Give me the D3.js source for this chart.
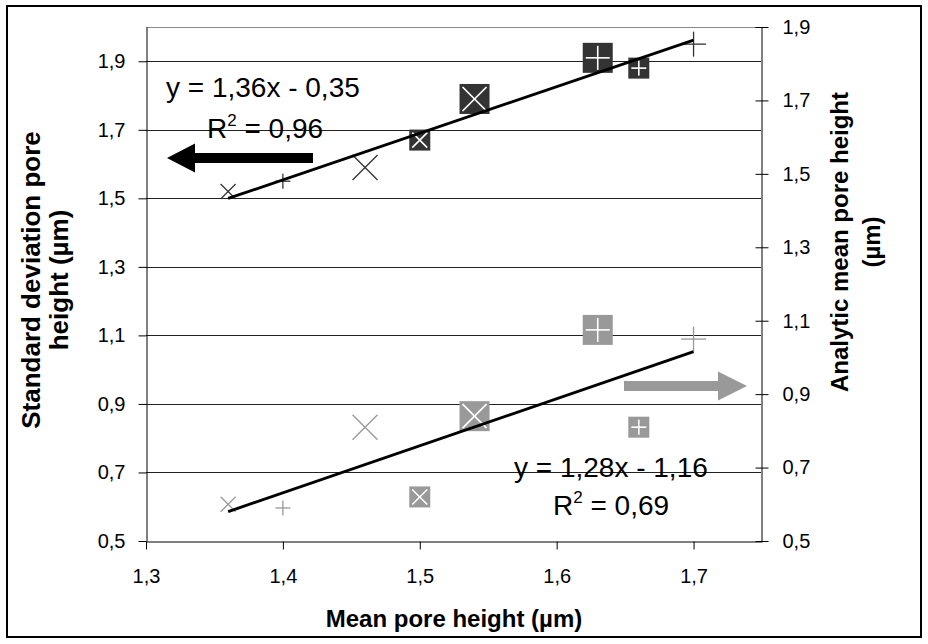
<!DOCTYPE html>
<html>
<head>
<meta charset="utf-8">
<script src="https://cdn.jsdelivr.net/npm/d3@7"></script>
<style>
  body { margin: 0; background: #fff; }
  svg text { font-family: "Liberation Sans", Arial, sans-serif; fill: #000; }
</style>
</head>
<body>
<div id="chart"></div>
<script>
// data
const meanHeight   = [1.36, 1.40, 1.46, 1.50, 1.54, 1.63, 1.66, 1.70];
const stdDev       = [1.52, 1.55, 1.59, 1.67, 1.79, 1.91, 1.88, 1.95];
const analyticMean = [0.60, 0.59, 0.81, 0.62, 0.84, 1.075, 0.81, 1.05];
const xTicks = [1.3, 1.4, 1.5, 1.6, 1.7];
const yTicks = [0.5, 0.7, 0.9, 1.1, 1.3, 1.5, 1.7, 1.9];
const eqStd = ["y = 1,36x - 0,35", " = 0,96"];
const eqAnalytic = ["y = 1,28x - 1,16", " = 0,69"];
const xTitle = "Mean pore height (µm)";
const yLeftTitle = ["Standard deviation pore", "height (µm)"];
const yRightTitle = ["Analytic mean pore height", "(µm)"];

// marker shape for each sample (same for both series)
const markerKind = [
  {sym: "x", size: 15, box: false},
  {sym: "+", size: 15, box: false},
  {sym: "x", size: 25, box: false},
  {sym: "x", size: 21, box: true},
  {sym: "x", size: 30, box: true},
  {sym: "+", size: 30, box: true},
  {sym: "+", size: 21, box: true},
  {sym: "+", size: 25, box: false}
];

const W = 928, H = 644;
const plotL = 146, plotR = 762, plotT = 27, plotB = 541;
const fmt = d => d3.format(".1f")(d).replace(".", ",");

const svg = d3.select("#chart").append("svg")
    .attr("width", W)
    .attr("height", H);

// outer frame
svg.append("rect")
    .attr("x", 7).attr("y", 6)
    .attr("width", 914).attr("height", 631)
    .attr("fill", "#fff")
    .attr("stroke", "#000")
    .attr("stroke-width", 2);

const x = d3.scaleLinear().domain([1.3, 1.75]).range([plotL, plotR]);
const yL = d3.scaleLinear().domain([0.5, 2.0]).range([plotB, plotT]);
const yR = d3.scaleLinear().domain([0.5, 1.9]).range([plotB, plotT]);

// gridlines
svg.append("g").selectAll("line")
    .data(yTicks.filter(v => v > 0.5))
    .enter().append("line")
    .attr("x1", plotL).attr("x2", plotR - 1)
    .attr("y1", d => Math.round(yL(d)) + 0.5)
    .attr("y2", d => Math.round(yL(d)) + 0.5)
    .attr("stroke", "#222");

// top border of plot area
svg.append("line")
    .attr("x1", plotL).attr("x2", plotR - 1)
    .attr("y1", plotT + 0.5).attr("y2", plotT + 0.5)
    .attr("stroke", "#888");

const xAxis = d3.axisBottom(x).tickValues(xTicks).tickFormat(fmt)
    .tickSizeInner(8).tickSizeOuter(0).tickPadding(19);
const gx = svg.append("g")
    .attr("transform", "translate(0," + (plotB + 0.5) + ")")
    .call(xAxis);

const yAxisL = d3.axisLeft(yL).tickValues(yTicks).tickFormat(fmt)
    .tickSizeInner(8).tickSizeOuter(0).tickPadding(13);
const gyl = svg.append("g")
    .attr("transform", "translate(" + (plotL + 0.5) + ",0)")
    .call(yAxisL);

const yAxisR = d3.axisRight(yR).tickValues(yTicks).tickFormat(fmt)
    .tickSizeInner(7).tickSizeOuter(0).tickPadding(14);
const gyr = svg.append("g")
    .attr("transform", "translate(" + (plotR - 0.5) + ",0)")
    .call(yAxisR);
gyr.selectAll(".tick line").attr("x1", -6);

[gx, gyl, gyr].forEach(g => {
  g.select(".domain").attr("stroke", "#000");
  g.selectAll(".tick line").attr("stroke", "#000");
  g.selectAll(".tick text")
      .attr("font-size", 20)
      .attr("font-family", "Liberation Sans, Arial, sans-serif")
      .attr("fill", "#000");
});

// least squares trendline, like the spreadsheet's
function fit(xs, ys) {
  const mx = d3.mean(xs), my = d3.mean(ys);
  const sxy = d3.sum(xs, (v, i) => (v - mx) * (ys[i] - my));
  const sxx = d3.sum(xs, v => (v - mx) * (v - mx));
  const b = sxy / sxx;
  return {b: b, a: my - b * mx};
}

function drawTrend(ys, yScale) {
  const f = fit(meanHeight, ys);
  const ends = d3.extent(meanHeight);
  const line = d3.line()
      .x(d => x(d))
      .y(d => yScale(f.a + f.b * d));
  svg.append("path")
      .attr("d", line(ends))
      .attr("fill", "none")
      .attr("stroke", "#000")
      .attr("stroke-width", 2.9);
}

function drawMarkers(ys, yScale, color, cls) {
  const g = svg.selectAll("." + cls)
      .data(meanHeight.map((v, i) => ({x: v, y: ys[i], k: markerKind[i]})))
      .enter().append("g")
      .attr("class", cls)
      .attr("transform", d => "translate(" + x(d.x) + "," + yScale(d.y) + ")");

  g.each(function(d) {
    const m = d3.select(this);
    const s = d.k.size;
    let h = s / 2, stroke = color, sw = 1.3;
    if (d.k.box) {
      m.append("rect")
          .attr("x", -s / 2).attr("y", -s / 2)
          .attr("width", s).attr("height", s)
          .attr("fill", color);
      h = (s - 6) / 2;
      stroke = "#fff";
      sw = 1.6;
    }
    const segs = d.k.sym === "x"
        ? [[-h, -h, h, h], [-h, h, h, -h]]
        : [[-h, 0, h, 0], [0, -h, 0, h]];
    m.selectAll("line").data(segs).enter().append("line")
        .attr("x1", p => p[0]).attr("y1", p => p[1])
        .attr("x2", p => p[2]).attr("y2", p => p[3])
        .attr("stroke", stroke)
        .attr("stroke-width", sw);
  });
}

drawMarkers(stdDev, yL, "#333", "std");
drawMarkers(analyticMean, yR, "#999", "ana");
drawTrend(stdDev, yL);
drawTrend(analyticMean, yR);

// arrows telling which axis each series belongs to
svg.append("path")
    .attr("d", "M167,158 L195,143.5 L195,153 L313,153 L313,163 L195,163 L195,172.5 Z")
    .attr("fill", "#000");
svg.append("path")
    .attr("d", "M747,386 L718,371.5 L718,381 L624,381 L624,391 L718,391 L718,400.5 Z")
    .attr("fill", "#999");

// trendline equations
function equation(lines, x0, y0, x1, y1) {
  svg.append("text")
      .attr("x", x0).attr("y", y0)
      .attr("font-size", 28)
      .text(lines[0]);
  const t = svg.append("text")
      .attr("x", x1).attr("y", y1)
      .attr("font-size", 28);
  t.append("tspan").text("R");
  t.append("tspan").attr("font-size", 17).attr("dy", -12).text("2");
  t.append("tspan").attr("dy", 12).text(lines[1]);
}
equation(eqStd, 166, 97, 207, 138);
equation(eqAnalytic, 514, 477, 553, 515);

// axis titles
svg.append("text")
    .attr("x", (plotL + plotR) / 2).attr("y", 627)
    .attr("text-anchor", "middle")
    .attr("font-size", 24).attr("font-weight", "bold")
    .text(xTitle);

svg.append("text")
    .attr("transform", "translate(0,280) rotate(-90)")
    .attr("text-anchor", "middle")
    .attr("font-size", 26).attr("font-weight", "bold")
    .selectAll("tspan").data(yLeftTitle).enter().append("tspan")
    .attr("x", 0)
    .attr("y", (d, i) => 40 + i * 28)
    .text(d => d);

svg.append("text")
    .attr("transform", "translate(0,242) rotate(-90)")
    .attr("text-anchor", "middle")
    .attr("font-size", 24).attr("font-weight", "bold")
    .selectAll("tspan").data(yRightTitle).enter().append("tspan")
    .attr("x", 0)
    .attr("y", (d, i) => 848 + i * 32)
    .text(d => d);
</script>
</body>
</html>
